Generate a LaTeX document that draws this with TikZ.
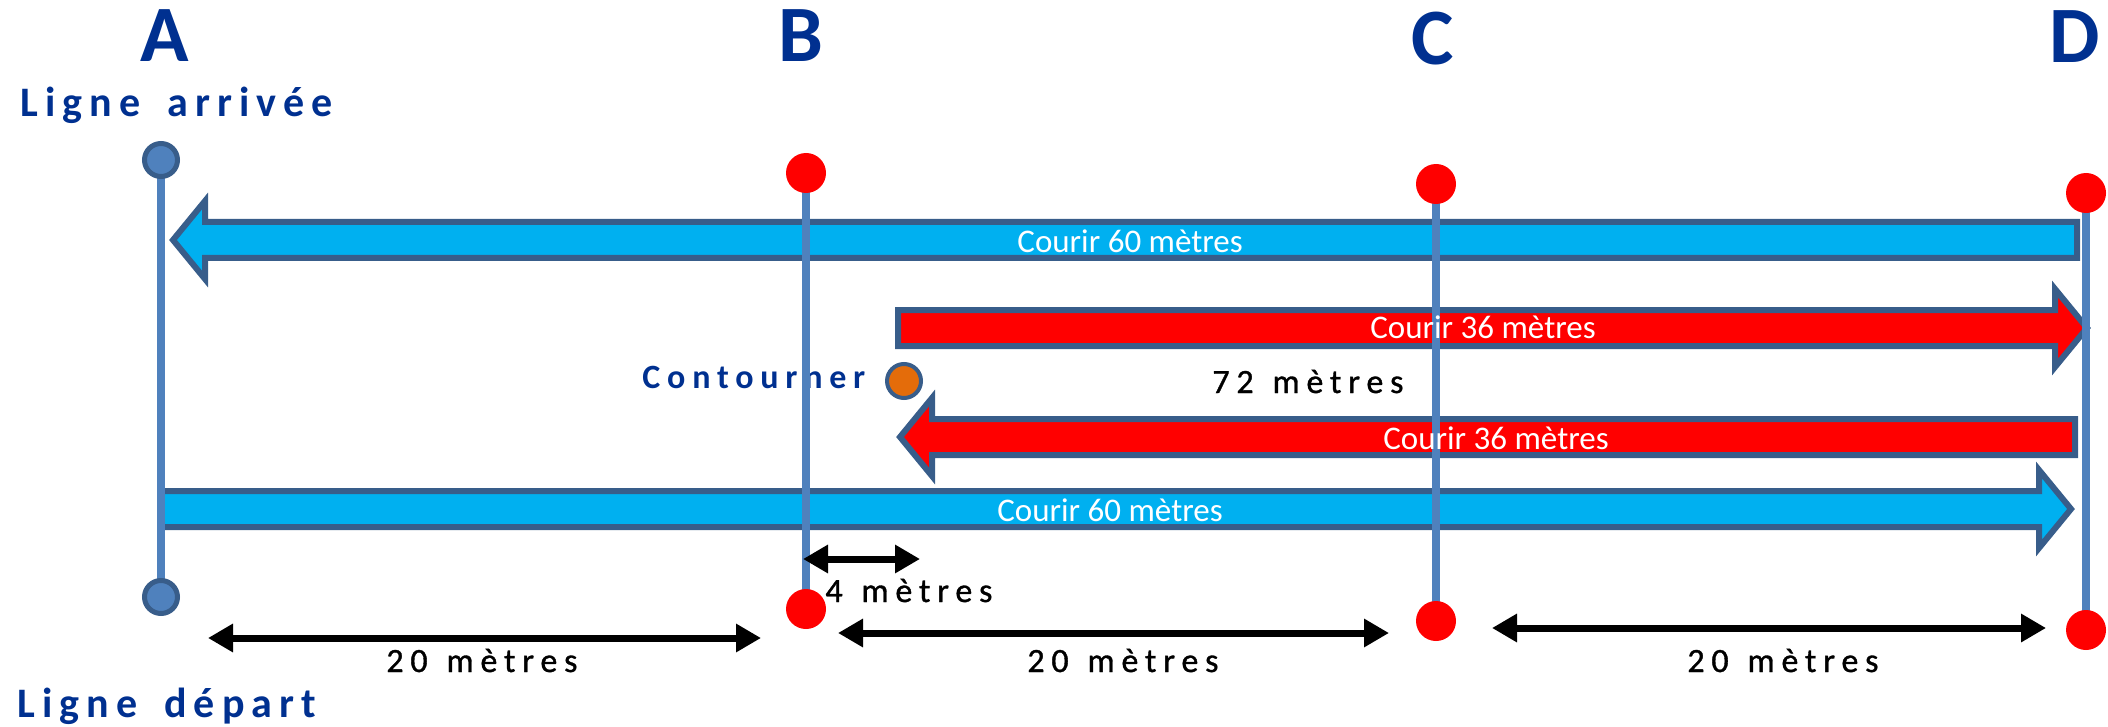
\documentclass[tikz,border=0pt]{standalone}
\usepackage{fontspec}
\setmainfont{Carlito}
\newfontfamily\spaced[LetterSpace=20,WordSpace=1.3]{Carlito}
\newfontfamily\spacedheavy[LetterSpace=20,WordSpace=1.3,FakeBold=1]{Carlito}
\newfontfamily\spacedline[LetterSpace=17,WordSpace=1.6]{Carlito}
\usetikzlibrary{arrows.meta}
\definecolor{poleblue}{HTML}{4F81BD}
\definecolor{edgeblue}{HTML}{385D8A}
\definecolor{runblue}{HTML}{00B0F0}
\definecolor{runred}{HTML}{FF0000}
\definecolor{turnorange}{HTML}{E46C0A}
\definecolor{navy}{HTML}{003090}
\tikzset{
  runshape/.style={draw=edgeblue, line width=3pt, line join=miter},
  pole/.style={draw=poleblue, line width=4pt},
  redflag/.style={circle, fill=runred, minimum size=20pt, inner sep=0pt},
  blueflag/.style={circle, fill=poleblue, draw=edgeblue, line width=2.5pt, minimum size=16.5pt, inner sep=0pt},
  turnflag/.style={circle, fill=turnorange, draw=edgeblue, line width=2pt, minimum size=17pt, inner sep=0pt},
  span/.style={line width=3.5pt, {Triangle[length=12.5pt,width=13.5pt]}-{Triangle[length=12.5pt,width=13.5pt]}},
  dist/.style={inner sep=0pt, anchor=base west, font=\spacedheavy\fontsize{17pt}{20pt}\selectfont},
  turnlabel/.style={dist, text=navy, font=\spaced\bfseries\fontsize{17pt}{20pt}\selectfont},
  linelabel/.style={dist, text=navy, font=\spacedline\bfseries\fontsize{21pt}{24pt}\selectfont},
  runlabel/.style={inner sep=0pt, anchor=base, text=white, font=\fontsize{16.5pt}{20pt}\selectfont},
  poleletter/.style={inner sep=0pt, anchor=base, text=navy, font=\bfseries\fontsize{40pt}{44pt}\selectfont}
}
% block arrow: colour, tail x, tip x, y
\newcommand{\runarrow}[4]{%
  \pgfmathsetmacro{\hx}{#3-sign(#3-#2)*32}
  \draw[runshape, fill=#1] (#2,#4-18) -- (\hx,#4-18) -- (\hx,#4-39) -- (#3,#4)
    -- (\hx,#4+39) -- (\hx,#4+18) -- (#2,#4+18) -- cycle;
}
\begin{document}
\begin{tikzpicture}[x=0.5pt, y=-0.5pt]
  \useasboundingbox (0,0) rectangle (2108,727);
  % ends of the four poles: name/x/top/bottom
  \foreach \p/\x/\t/\b in {A/161/160/597,B/806/173/609,C/1436/184/621,D/2086/193/630}{%
    \coordinate (\p top) at (\x,\t);
    \coordinate (\p bot) at (\x,\b);
  }
  % the four runs
  \runarrow{runblue}{2077}{173}{240}
  \runarrow{runred}{898}{2087}{328}
  \runarrow{runred}{2075}{900}{437}
  \runarrow{runblue}{161}{2071}{509}
  \node[turnlabel] (turn) at (642,388) {Contourner};
  \node[dist] (total) at (1212,393) {72 mètres};
  % poles and their flags
  \foreach \p in {A,B,C,D}
    \draw[pole] (\p top) -- (\p bot);
  \node[blueflag] (Aend) at (Atop) {};
  \node[blueflag] (Astart) at (Abot) {};
  \foreach \p in {B,C,D}{%
    \node[redflag] (\p up) at (\p top) {};
    \node[redflag] (\p down) at (\p bot) {};
  }
  \node[turnflag] (cone) at (904,381) {};
  % texts on the runs
  \node[runlabel, anchor=base west] (run1) at (1017,252) {Courir 60 mètres};
  \node[runlabel] (run2) at (1483,338) {Courir 36 mètres};
  \node[runlabel] (run3) at (1496,449) {Courir 36 mètres};
  \node[runlabel] (run4) at (1110,521) {Courir 60 mètres};
  % distances
  \coordinate (s1a) at (208,638);  \coordinate (s1b) at (761,638);
  \coordinate (s2a) at (838,633);  \coordinate (s2b) at (1389,633);
  \coordinate (s3a) at (1492,628); \coordinate (s3b) at (2046,628);
  \coordinate (s4a) at (803,559);  \coordinate (s4b) at (920,559);
  \foreach \s in {s1,s2,s3,s4}
    \draw[span] (\s a) -- (\s b);
  \node[dist] (d1) at (386,672) {20 mètres};
  \node[dist] (d2) at (1027,672) {20 mètres};
  \node[dist] (d3) at (1687,672) {20 mètres};
  \node[dist] (d4) at (825,602) {4 mètres};
  % pole names and lines
  \foreach \p/\x/\y in {A/165/62,B/801/62,C/1433/65,D/2075/63}
    \node[poleletter] (name\p) at (\x,\y) {\p};
  \node[linelabel] (finish) at (20,117) {Ligne arrivée};
  \node[linelabel] (start) at (17,717) {Ligne départ};
\end{tikzpicture}
\end{document}
